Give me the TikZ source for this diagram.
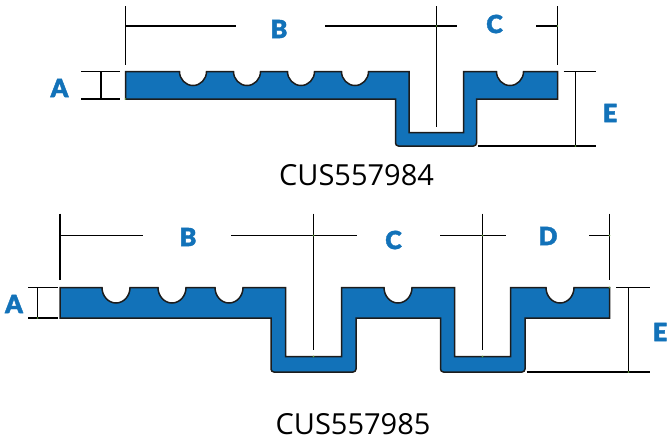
\documentclass[tikz,border=0pt]{standalone}
\usepackage{fontspec}
\setmainfont{Open Sans}
\newfontfamily\labelfont[FakeBold=1.6]{Lato Black}
\definecolor{profileblue}{HTML}{1272B9}
\definecolor{edgegrey}{HTML}{1C1C1C}
\definecolor{dotgreen}{HTML}{5F9E3A}
\tikzset{
  profile/.style={fill=profileblue,draw=edgegrey,line width=1.5pt,line join=miter},
  dimline/.style={draw=black,line width=1.5pt},
  letter/.style={text=profileblue,font=\labelfont\fontsize{25}{25}\selectfont,inner sep=0pt},
  caption/.style={text=black,font=\fontsize{29}{29}\selectfont,inner sep=0pt},
  tick/.style={fill=dotgreen,draw=none,circle,inner sep=0pt,minimum size=1.8pt}
}
\begin{document}
\begin{tikzpicture}[x=1pt,y=-1pt]
\useasboundingbox (0,0) rectangle (668,440);
% --- upper profile
\draw[profile] (125.5,71.5) -- (179.5,71.5) arc[start angle=180,end angle=360,x radius=13.5pt,y radius=14pt]
  -- (233.5,71.5) arc[start angle=180,end angle=360,x radius=13.5pt,y radius=14pt]
  -- (287.5,71.5) arc[start angle=180,end angle=360,x radius=13.5pt,y radius=14pt]
  -- (341.5,71.5) arc[start angle=180,end angle=360,x radius=13.5pt,y radius=14pt]
  -- (409,71.5) -- (409,132.5) -- (463.5,132.5) -- (463.5,71.5)
  -- (496.5,71.5) arc[start angle=180,end angle=360,x radius=13.5pt,y radius=14pt]
  -- (557.5,71.5) -- (557.5,99) -- (476.5,99)
  [rounded corners=3pt] -- (476.5,146) -- (395.5,146) [sharp corners] -- (395.5,99) -- (125.5,99) -- cycle;
% upper dimensions
\draw[dimline] (125.5,6) -- (125.5,65);
\draw[dimline] (436.5,6) -- (436.5,126.5);
\draw[dimline] (557.5,6) -- (557.5,65);
\draw[dimline] (125.5,26) -- (236,26);
\draw[dimline] (325,26) -- (456.5,26);
\draw[dimline] (536,26) -- (557.5,26);
\draw[dimline] (81,71.5) -- (120,71.5);
\draw[dimline] (81,99) -- (120,99);
\draw[dimline] (101,71.5) -- (101,99);
\draw[dimline] (563.5,71.5) -- (596,71.5);
\draw[dimline] (477.5,146) -- (596,146);
\draw[dimline] (575.5,71.5) -- (575.5,146);
\node[letter] (ua) at (59.5,88) {A};
\node[letter] (ub) at (279,29) {B};
\node[letter] (uc) at (494.5,24) {C};
\node[letter] (ue) at (610,113) {E};
\node[caption] (ucap) at (356.5,175) {CUS557984};
% --- lower profile
\draw[profile] (60,287.5) -- (102,287.5) arc[start angle=180,end angle=360,x radius=14pt,y radius=15.5pt]
  -- (158,287.5) arc[start angle=180,end angle=360,x radius=14pt,y radius=15.5pt]
  -- (215,287.5) arc[start angle=180,end angle=360,x radius=14pt,y radius=15.5pt]
  -- (285.5,287.5) -- (285.5,356.5) -- (341.5,356.5) -- (341.5,287.5)
  -- (384,287.5) arc[start angle=180,end angle=360,x radius=14pt,y radius=15.5pt]
  -- (454.5,287.5) -- (454.5,356.5) -- (510.5,356.5) -- (510.5,287.5)
  -- (546,287.5) arc[start angle=180,end angle=360,x radius=14pt,y radius=15.5pt]
  -- (609.5,287.5) -- (609.5,318) -- (525,318)
  [rounded corners=3pt] -- (525,372) -- (440.5,372) [sharp corners] -- (440.5,318) -- (356,318)
  [rounded corners=3pt] -- (356,372) -- (271,372) [sharp corners] -- (271,318) -- (60,318) -- cycle;
% lower dimensions
\draw[dimline] (60,213.5) -- (60,280);
\draw[dimline] (313.5,213.5) -- (313.5,349.5);
\draw[dimline] (482.5,213.5) -- (482.5,349.5);
\draw[dimline] (609.5,213.5) -- (609.5,280);
\draw[dimline] (60,235.5) -- (143,235.5);
\draw[dimline] (231,235.5) -- (356.5,235.5);
\draw[dimline] (440,235.5) -- (505.5,235.5);
\draw[dimline] (589,235.5) -- (609.5,235.5);
\draw[dimline] (28,287.5) -- (58,287.5);
\draw[dimline] (28,318) -- (58,318);
\draw[dimline] (37.5,287.5) -- (37.5,318);
\draw[dimline] (616,287.5) -- (649.5,287.5);
\draw[dimline] (526.5,372) -- (649.5,372);
\draw[dimline] (628.5,287.5) -- (628.5,372);
\node[letter] (la) at (14,304) {A};
\node[letter] (lb) at (188,237) {B};
\node[letter] (lc) at (393.5,240) {C};
\node[letter] (ld) at (548,236) {D};
\node[letter] (le) at (660,332) {E};
\node[caption] (lcap) at (353,424) {CUS557985};
% green marks
\foreach \p in {(125.5,99),(436.5,26),(557.5,26),(575.5,146),(313.5,235.5),(313.5,356.5),(482.5,235.5),(482.5,356.5),(609.5,235.5),(609.5,287.5),(628.5,372),(37.5,318)}
  \node[tick] at \p {};
\end{tikzpicture}
\end{document}
